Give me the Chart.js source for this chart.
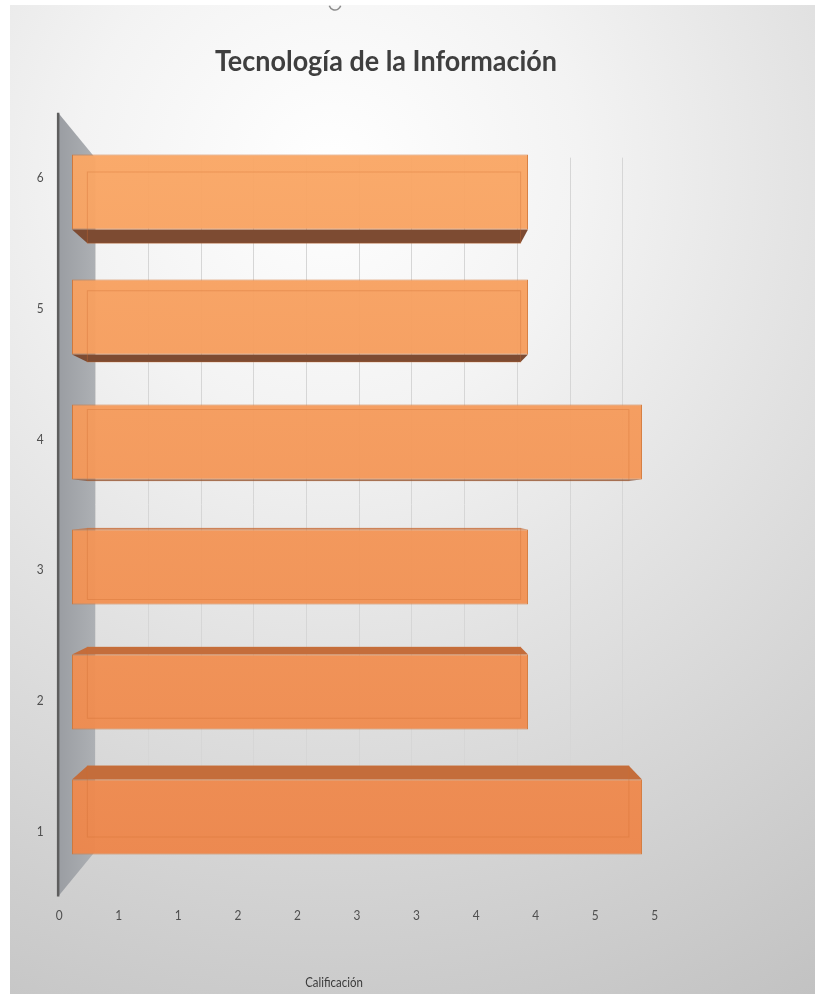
<!DOCTYPE html>
<html><head><meta charset="UTF-8">
<title>Tecnología de la Información</title>
<script src="https://cdn.jsdelivr.net/npm/chart.js"></script>
<style>
  html,body{margin:0;background:#fff}
  #wrap{position:relative;width:815px;height:994px}
</style>
</head><body>
<div id="wrap"><canvas id="chart"></canvas></div>
<script>
// datos
const categorias = ["1", "2", "3", "4", "5", "6"];
const calificacion = [5, 4, 4, 5, 4, 4];
const titulo = "Tecnología de la Información";
const tituloEjeX = "Calificación";
const minX = 0, maxX = 5, pasoX = 0.5;

const FUENTE = 'Lato, "Open Sans", sans-serif';

// punto de fuga y proyeccion para el efecto 3D
function fuga(ch) {
  const a = ch.chartArea;
  return { x: a.left + (a.right - a.left) * 0.54, y: (a.top + a.bottom) / 2 };
}
function proy(v, x, y, k) {
  return { x: v.x + (x - v.x) * k, y: v.y + (y - v.y) * k };
}
function poly(c, pts, fill) {
  c.fillStyle = fill;
  c.beginPath();
  c.moveTo(pts[0][0], pts[0][1]);
  for (let i = 1; i < pts.length; i++) c.lineTo(pts[i][0], pts[i][1]);
  c.closePath();
  c.fill();
}
function texto(c, s, x, y, font, color, sx) {
  c.save();
  c.font = font;
  c.fillStyle = color;
  c.textAlign = "center";
  c.textBaseline = "middle";
  c.translate(x, y);
  c.scale(sx || 1, 1);
  c.fillText(s, 0, 0);
  c.restore();
}
function valoresX(sx) {
  if (sx.ticks && sx.ticks.length) return sx.ticks.map(t => t.value);
  const out = [];
  for (let v = minX; v <= maxX + 1e-9; v += pasoX) out.push(v);
  return out;
}

const K_FONDO = 0.925, K_BARRA = 0.95, K_FRENTE = 1.045;

const fondo = {
  id: "fondo",
  beforeDraw(ch) {
    const c = ch.ctx;
    c.save();
    c.fillStyle = "#fff";
    c.fillRect(0, 0, ch.width, ch.height);
    const g = c.createRadialGradient(330, 170, 0, 330, 170, 1000);
    g.addColorStop(0, "#ffffff");
    g.addColorStop(0.25, "#f3f3f3");
    g.addColorStop(1, "#bfbfbf");
    c.fillStyle = g;
    c.fillRect(10, 5, ch.width - 10, ch.height - 5);
    // asa de giro del cuadro de titulo
    c.strokeStyle = "#8c8c8c";
    c.lineWidth = 1.5;
    c.beginPath();
    c.arc(335, 4, 6, 0.1 * Math.PI, 0.9 * Math.PI);
    c.stroke();
    c.restore();
  }
};

const cajas3d = {
  id: "cajas3d",
  beforeDatasetsDraw(ch) {
    const c = ch.ctx, a = ch.chartArea, v = fuga(ch), sx = ch.scales.x;
    c.save();
    // lineas de division sobre la pared del fondo
    const yt = proy(v, 0, a.top, K_FONDO).y, yb = proy(v, 0, a.bottom, K_FONDO).y;
    c.strokeStyle = "#d6d6d6";
    c.lineWidth = 1;
    valoresX(sx).forEach(val => {
      const px = Math.round(proy(v, sx.getPixelForValue(val), 0, K_FONDO).x) + 0.5;
      c.beginPath();
      c.moveTo(px, yt);
      c.lineTo(px, yb);
      c.stroke();
    });
    // pared lateral
    const f1 = proy(v, a.left, a.top, K_FRENTE), f2 = proy(v, a.left, a.bottom, K_FRENTE);
    const b1 = proy(v, a.left, a.top, K_FONDO), b2 = proy(v, a.left, a.bottom, K_FONDO);
    const gw = c.createLinearGradient(f1.x, 0, b1.x, 0);
    gw.addColorStop(0, "#9a9da2");
    gw.addColorStop(1, "#adb0b4");
    poly(c, [[f1.x, f1.y], [b1.x, b1.y], [b2.x, b2.y], [f2.x, f2.y]], gw);
    c.strokeStyle = "#5e5e5e";
    c.lineWidth = 2.5;
    c.beginPath();
    c.moveTo(f1.x, f1.y);
    c.lineTo(f2.x, f2.y);
    c.stroke();
    // caras superior / inferior de cada barra
    ch.getDatasetMeta(0).data.forEach(bar => {
      const p = bar.getProps(["x", "y", "base", "height"], true);
      const L = Math.min(p.x, p.base), R = Math.max(p.x, p.base);
      const T = p.y - p.height / 2, B = p.y + p.height / 2;
      const tl = proy(v, L, T, K_BARRA), tr = proy(v, R, T, K_BARRA);
      const bl = proy(v, L, B, K_BARRA), br = proy(v, R, B, K_BARRA);
      if (bl.y > B + 0.3) poly(c, [[L, B], [R, B], [br.x, br.y], [bl.x, bl.y]], "#7d4b32");
      if (tl.y < T - 0.3) poly(c, [[L, T], [R, T], [tr.x, tr.y], [tl.x, tl.y]], "#c46d3b");
    });
    c.restore();
  },
  afterDatasetsDraw(ch) {
    const c = ch.ctx, v = fuga(ch);
    c.save();
    // aristas traseras vistas a traves de la cara frontal
    c.strokeStyle = "rgba(206,110,48,0.35)";
    c.lineWidth = 1;
    ch.getDatasetMeta(0).data.forEach(bar => {
      const p = bar.getProps(["x", "y", "base", "height"], true);
      const L = Math.min(p.x, p.base), R = Math.max(p.x, p.base);
      const T = p.y - p.height / 2, B = p.y + p.height / 2;
      const tl = proy(v, L, T, K_BARRA), br = proy(v, R, B, K_BARRA);
      c.strokeRect(tl.x, tl.y, br.x - tl.x, br.y - tl.y);
    });
    c.restore();
  },
  afterDraw(ch) {
    const c = ch.ctx, a = ch.chartArea, v = fuga(ch), sx = ch.scales.x, sy = ch.scales.y;
    const frenteAbajo = proy(v, a.left, a.bottom, K_FRENTE);
    // etiquetas del eje de valores
    valoresX(sx).forEach(val => {
      const px = proy(v, sx.getPixelForValue(val), 0, K_FRENTE).x;
      texto(c, String(Math.round(val)), px + 1, frenteAbajo.y + 19, "14px " + FUENTE, "#4f4f4f", 0.85);
    });
    // etiquetas de categorias
    categorias.forEach((cat, i) => {
      const py = proy(v, 0, sy.getPixelForValue(i), K_FRENTE).y;
      texto(c, cat, frenteAbajo.x - 18, py, "14px " + FUENTE, "#4f4f4f", 0.85);
    });
    texto(c, tituloEjeX, 334, 983, "13px " + FUENTE, "#3a3a3a", 0.88);
    texto(c, titulo, 386, 62, "bold 29px " + FUENTE, "#3f3f3f", 0.93);
  }
};

new Chart(document.getElementById("chart"), {
  type: "bar",
  data: {
    labels: categorias,
    datasets: [{
      label: tituloEjeX,
      data: calificacion,
      backgroundColor: ctx => {
        const a = ctx.chart.chartArea;
        if (!a) return "#f29a58";
        const g = ctx.chart.ctx.createLinearGradient(0, a.top, 0, a.bottom);
        g.addColorStop(0, "rgba(250,168,102,0.96)");
        g.addColorStop(1, "rgba(237,133,74,0.96)");
        return g;
      },
      borderColor: "rgba(212,116,50,0.9)",
      borderWidth: 1,
      borderSkipped: false,
      categoryPercentage: 1,
      barPercentage: 0.6
    }]
  },
  options: {
    indexAxis: "y",
    responsive: true,
    maintainAspectRatio: false,
    animation: false,
    layout: { padding: { left: 72, right: 173, top: 129.5, bottom: 114.5 } },
    plugins: { legend: { display: false }, title: { display: false }, tooltip: { enabled: false } },
    scales: {
      x: { display: false, min: minX, max: maxX, ticks: { stepSize: pasoX } },
      y: { display: false, reverse: true }
    }
  },
  plugins: [fondo, cajas3d]
});
</script>
</body></html>
